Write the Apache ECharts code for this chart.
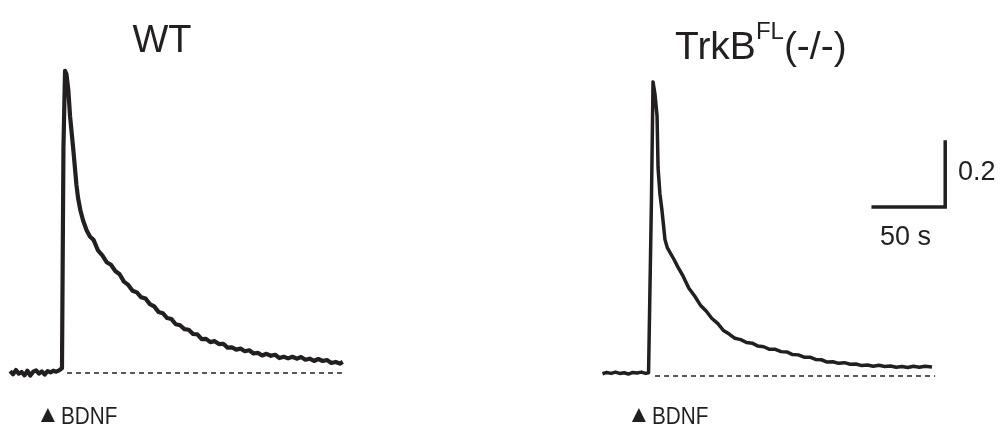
<!DOCTYPE html>
<html>
<head>
<meta charset="utf-8">
<script src="https://cdn.jsdelivr.net/npm/echarts@6/dist/echarts.min.js"></script>
<style>
  html, body { margin: 0; padding: 0; background: #ffffff; }
  #chart { width: 1004px; height: 432px; }
</style>
</head>
<body>
<div id="chart"></div>
<script>
// Calcium response traces (ΔF/F) after BDNF application at t = 0 s
const wtTime = [
  -36, -34, -32, -30, -28, -26, -24, -22, -20, -18, -16, -14, -12, -10, -8, -6, -4, -2, -1,
  0, 1.0, 2.1, 3.1, 4.4, 5.6, 6.7, 8, 9.0, 10, 11.1, 12.8, 14.6, 17, 19.4,
  22, 25, 28, 31, 34, 37, 40, 43, 46, 49, 52, 55, 58, 61, 64, 67, 70, 73, 76, 79,
  82, 85, 88, 91, 94, 97, 100, 103, 106, 109, 112, 115, 118, 121, 124, 127, 130,
  133, 136, 139, 142, 145, 148, 151, 154, 157, 160, 163, 166, 169, 172, 175, 178,
  181, 184, 187, 190, 193, 195
];
const wtValue = [
  0.006, -0.004, 0.009, -0.002, 0.003, -0.007, 0.007, -0.008, 0.004, 0.008, -0.002, 0.005, -0.005, 0.006, 0.002, 0.007, 0.004, 0.008, 0.010,
  0.015, 0.69, 0.93, 0.92, 0.87, 0.79, 0.74, 0.68, 0.63, 0.58, 0.54, 0.50, 0.47, 0.44, 0.42,
  0.409, 0.377, 0.362, 0.341, 0.333, 0.314, 0.304, 0.281, 0.271, 0.253, 0.248, 0.233, 0.229, 0.212, 0.205, 0.188, 0.184, 0.169, 0.166, 0.150,
  0.147, 0.135, 0.133, 0.120, 0.119, 0.104, 0.105, 0.095, 0.098, 0.089, 0.090, 0.078, 0.079, 0.072, 0.075, 0.067, 0.070,
  0.060, 0.062, 0.054, 0.059, 0.053, 0.056, 0.046, 0.050, 0.045, 0.050, 0.044, 0.049, 0.041, 0.044, 0.037, 0.043,
  0.037, 0.040, 0.031, 0.034, 0.029, 0.034
];

const koTime = [
  -33, -30, -27, -24, -21, -18, -15, -12, -9, -6, -3, -1,
  0, 1.0, 2.1, 3.5, 4.9, 5.6, 6.9, 8.3, 10.4, 12, 13.9, 16.5, 19.4,
  23, 27, 31, 35, 39, 43, 47, 51, 55, 59, 63, 67, 71, 75, 79, 83, 87, 91, 95, 99,
  103, 107, 111, 115, 119, 123, 127, 131, 135, 139, 143, 147, 151, 155, 159, 163,
  167, 171, 175, 179, 183, 187, 191, 195.8
];
const koValue = [
  0.007, 0.011, 0.008, 0.012, 0.008, 0.010, 0.006, 0.011, 0.009, 0.012, 0.008, 0.010,
  0.015, 0.54, 0.905, 0.865, 0.80, 0.64, 0.56, 0.51, 0.42, 0.395, 0.38, 0.36, 0.335,
  0.307, 0.270, 0.246, 0.218, 0.200, 0.177, 0.162, 0.140, 0.129, 0.116, 0.112, 0.103, 0.101, 0.092, 0.090, 0.082, 0.082, 0.075, 0.074, 0.066,
  0.065, 0.058, 0.058, 0.051, 0.050, 0.043, 0.044, 0.039, 0.041, 0.036, 0.037, 0.032, 0.034, 0.030, 0.033, 0.029,
  0.031, 0.027, 0.029, 0.026, 0.030, 0.027, 0.030, 0.028
];

// Pre-stimulus baseline (dashed) extent, seconds
const wtBaseline = [3.5, 195];
const koBaseline = [3.5, 198];

// Scale bar: 50 s horizontal, 0.2 ΔF/F vertical
const scaleTime = [155, 205, 205];
const scaleValue = [0.52, 0.52, 0.72];

const titles = ['WT', 'TrkB', 'FL', '(-/-)'];
const stimulusMark = '▲';
const stimulusLabel = 'BDNF';
const scaleLabels = ['0.2', '50 s'];

const INK = '#231f20';
const FONT = 'Liberation Sans, Arial, sans-serif';

const pairs = (xs, ys) => xs.map((x, i) => [x, ys[i]]);

const chart = echarts.init(document.getElementById('chart'), null, { renderer: 'canvas' });

const hiddenX = { type: 'value', min: -40, show: false };
const hiddenY = { type: 'value', min: -0.1, max: 1.0, show: false };

const textStyle = (size) => ({ fontFamily: FONT, fontSize: size, fill: INK });

chart.setOption({
  animation: false,
  backgroundColor: '#ffffff',
  title: [
    { text: titles[0], left: 157, top: 18, textAlign: 'center',
      textStyle: { fontFamily: FONT, fontSize: 38, fontWeight: 'normal', color: INK } },
    { text: '{a|' + titles[1] + '}{s|' + titles[2] + '}{a|' + titles[3] + '}', left: 670, top: 15,
      textStyle: { rich: {
        a: { fontFamily: FONT, fontSize: 39, fontWeight: 'normal', color: INK, verticalAlign: 'bottom', lineHeight: 48 },
        s: { fontFamily: FONT, fontSize: 24, fontWeight: 'normal', color: INK, verticalAlign: 'top', lineHeight: 48, padding: [0, 0, 16, 0] }
      } } }
  ],
  grid: [
    { left: 4.4, width: 345.6, top: 48, height: 357.5 },
    { left: 592.4, width: 360, top: 51, height: 357.5 }
  ],
  xAxis: [
    Object.assign({}, hiddenX, { gridIndex: 0, max: 200 }),
    Object.assign({}, hiddenX, { gridIndex: 1, max: 210 })
  ],
  yAxis: [
    Object.assign({}, hiddenY, { gridIndex: 0 }),
    Object.assign({}, hiddenY, { gridIndex: 1 })
  ],
  series: [
    { name: 'WT baseline', type: 'line', xAxisIndex: 0, yAxisIndex: 0,
      data: wtBaseline.map(t => [t, 0]), symbol: 'none',
      lineStyle: { color: INK, width: 1.5, type: [5, 4] } },
    { name: 'WT', type: 'line', xAxisIndex: 0, yAxisIndex: 0,
      data: pairs(wtTime, wtValue), symbol: 'none',
      lineStyle: { color: INK, width: 4.2, join: 'round' } },
    { name: 'KO baseline', type: 'line', xAxisIndex: 1, yAxisIndex: 1,
      data: koBaseline.map(t => [t, 0]), symbol: 'none',
      lineStyle: { color: INK, width: 1.5, type: [5, 4] } },
    { name: 'TrkB FL (-/-)', type: 'line', xAxisIndex: 1, yAxisIndex: 1,
      data: pairs(koTime, koValue), symbol: 'none',
      lineStyle: { color: INK, width: 3.5, join: 'round' } },
    { name: 'Scale bar', type: 'line', xAxisIndex: 1, yAxisIndex: 1,
      data: pairs(scaleTime, scaleValue), symbol: 'none',
      lineStyle: { color: INK, width: 3.5, join: 'miter', cap: 'square' } }
  ],
  graphic: [
    { type: 'text', left: 36, top: 403, style: Object.assign(textStyle(24), { text: stimulusMark }) },
    { type: 'text', left: 61, top: 406, scaleX: 0.9, style: Object.assign(textStyle(23), { text: stimulusLabel }) },
    { type: 'text', left: 627, top: 403, style: Object.assign(textStyle(24), { text: stimulusMark }) },
    { type: 'text', left: 652, top: 406, scaleX: 0.9, style: Object.assign(textStyle(23), { text: stimulusLabel }) },
    { type: 'text', left: 958, top: 159, style: Object.assign(textStyle(27), { text: scaleLabels[0] }) },
    { type: 'text', left: 880, top: 224, style: Object.assign(textStyle(27), { text: scaleLabels[1] }) }
  ]
});
</script>
</body>
</html>
